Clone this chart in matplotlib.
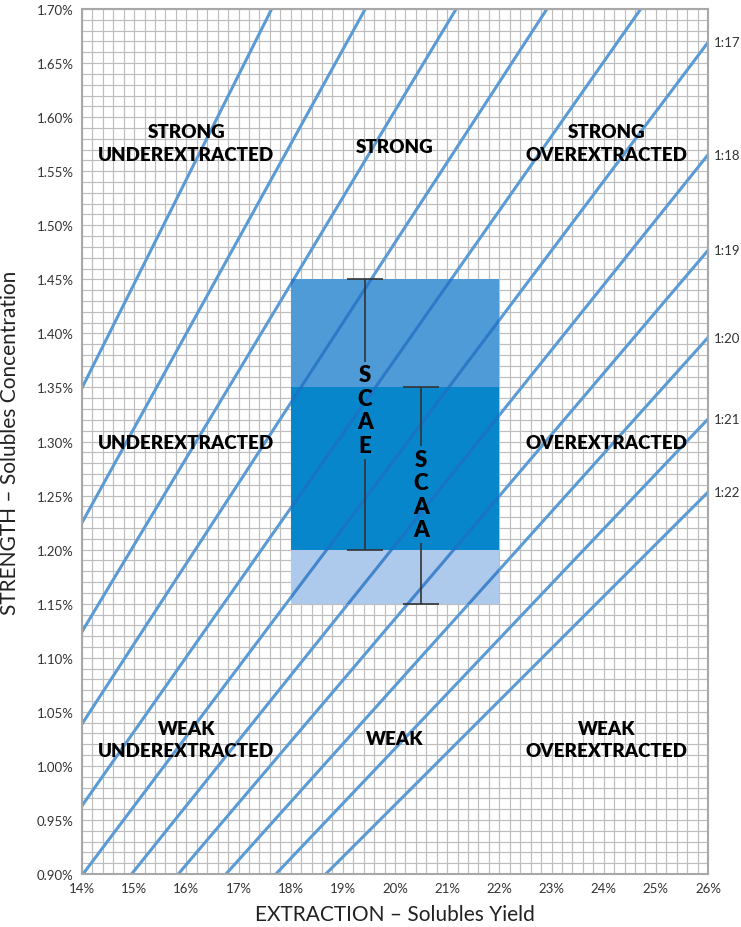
import numpy as np
import matplotlib.pyplot as plt
from matplotlib.patches import Rectangle

plt.rcParams['font.family'] = ['Lato', 'DejaVu Sans']

# brew ratio lines: TDS (%) at 20% extraction, lines run through the origin
ratio_names = ['', '', '', '', '', '1:17', '1:18', '1:19', '1:20', '1:21', '1:22']
tds_at_20 = [1.928, 1.750, 1.606, 1.484, 1.376, 1.284, 1.204, 1.136, 1.074, 1.016, 0.964]

# brewing control boxes (extraction %, strength %)
scae_ey = [18, 22]
scae_tds = [1.20, 1.45]
scaa_ey = [18, 22]
scaa_tds = [1.15, 1.35]

x_ticks = [14, 15, 16, 17, 18, 19, 20, 21, 22, 23, 24, 25, 26]
y_ticks = [0.90, 0.95, 1.00, 1.05, 1.10, 1.15, 1.20, 1.25, 1.30, 1.35, 1.40, 1.45, 1.50, 1.55, 1.60, 1.65, 1.70]

regions = [
    ('STRONG\nUNDEREXTRACTED', 16.0, 1.576),
    ('STRONG', 20.0, 1.573),
    ('STRONG\nOVEREXTRACTED', 24.05, 1.576),
    ('UNDEREXTRACTED', 16.0, 1.2995),
    ('OVEREXTRACTED', 24.05, 1.2995),
    ('WEAK\nUNDEREXTRACTED', 16.0, 1.0245),
    ('WEAK', 20.0, 1.0255),
    ('WEAK\nOVEREXTRACTED', 24.05, 1.0245),
]

fig = plt.figure(figsize=(7.41, 9.28), dpi=100)
ax = fig.add_axes([0.1107, 0.0571, 0.8448, 0.9321])
ax.set_xlim(14, 26)
ax.set_ylim(0.90, 1.70)

# fine graph-paper grid
ax.set_xticks(np.arange(14, 26.01, 0.2), minor=True)
ax.set_yticks(np.arange(0.90, 1.7001, 0.01), minor=True)
ax.grid(which='minor', color='#bdbdbd', lw=0.85, zorder=0)
ax.grid(which='major', color='#bdbdbd', lw=0.85, zorder=0)
ax.set_axisbelow(True)
ax.tick_params(which='both', length=0)

# boxes
top = Rectangle((scae_ey[0], scaa_tds[1]), scae_ey[1] - scae_ey[0], scae_tds[1] - scaa_tds[1],
                facecolor='#4f9bd7', edgecolor='none', zorder=3)
mid = Rectangle((scae_ey[0], scae_tds[0]), scae_ey[1] - scae_ey[0], scaa_tds[1] - scae_tds[0],
                facecolor='#0786cc', edgecolor='none', zorder=3)
low = Rectangle((scaa_ey[0], scaa_tds[0]), scaa_ey[1] - scaa_ey[0], scae_tds[0] - scaa_tds[0],
                facecolor='#adc9eb', edgecolor='none', zorder=3)
box_all = Rectangle((scaa_ey[0], scaa_tds[0]), scaa_ey[1] - scaa_ey[0], scae_tds[1] - scaa_tds[0],
                    facecolor='none', edgecolor='none', transform=ax.transData)
for r in (top, mid, low):
    ax.add_patch(r)

# ratio lines
xs = np.array([0.0, 30.0])
for name, t20 in zip(ratio_names, tds_at_20):
    k = t20 / 20.0
    ax.plot(xs, k * xs, color='#5b9bd5', lw=2.2, zorder=2, solid_capstyle='butt')
    ln, = ax.plot(xs, k * xs, color='#1f6ec2', lw=2.2, alpha=0.75, zorder=4, solid_capstyle='butt')
    ln.set_clip_path(box_all)
    if name:
        ax.text(26.12, k * 26, name, fontsize=9.5, color='#333333', va='center', ha='left',
                clip_on=False)

# SCAE / SCAA bars with stacked letters
bar_col = '#333333'
x_e, x_a = 19.42, 20.5
ax.vlines(x_e, 1.374, scae_tds[1], color=bar_col, lw=1.2, zorder=5)
ax.vlines(x_e, scae_tds[0], 1.284, color=bar_col, lw=1.2, zorder=5)
ax.hlines([scae_tds[0], scae_tds[1]], x_e - 0.34, x_e + 0.34, color=bar_col, lw=1.2, zorder=5)
ax.vlines(x_a, 1.296, scaa_tds[1], color=bar_col, lw=1.2, zorder=5)
ax.vlines(x_a, scaa_tds[0], 1.206, color=bar_col, lw=1.2, zorder=5)
ax.hlines([scaa_tds[0], scaa_tds[1]], x_a - 0.34, x_a + 0.34, color=bar_col, lw=1.2, zorder=5)
ax.text(x_e, 1.329, 'S\nC\nA\nE', fontsize=16, fontweight='heavy', ha='center', va='center',
        linespacing=1.15, zorder=6)
ax.text(x_a, 1.251, 'S\nC\nA\nA', fontsize=16, fontweight='heavy', ha='center', va='center',
        linespacing=1.15, zorder=6)

# region labels
for label, x, y in regions:
    ax.text(x, y, label, fontsize=13.5, fontweight='heavy', ha='center', va='center',
            linespacing=1.38, zorder=6)

ax.set_xticks(x_ticks)
ax.set_xticklabels([f'{v}%' for v in x_ticks])
ax.set_yticks(y_ticks)
ax.set_yticklabels([f'{v:.2f}%' for v in y_ticks])
ax.tick_params(which='major', labelsize=9.5, colors='#333333', pad=6)

for s in ax.spines.values():
    s.set_color('#a8a8a8')
    s.set_linewidth(1.5)
    s.set_zorder(7)

ax.set_xlabel('EXTRACTION – Solubles Yield', fontsize=15, color='#222222', labelpad=7)
ax.set_ylabel('STRENGTH – Solubles Concentration', fontsize=15, color='#222222', labelpad=12)

fig.savefig('out.png', dpi=100)
